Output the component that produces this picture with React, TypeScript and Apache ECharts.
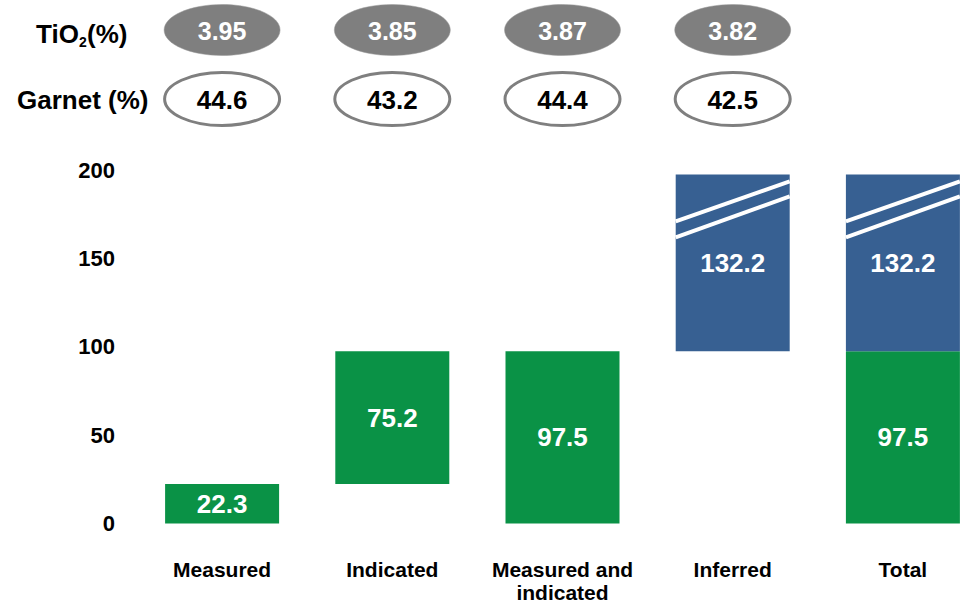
import React, { useEffect, useRef } from 'react';
import * as echarts from 'echarts';

// ---- data ----
const categories = ['Measured', 'Indicated', 'Measured and\nindicated', 'Inferred', 'Total'];
const tio2Values = [3.95, 3.85, 3.87, 3.82];
const garnetValues = [44.6, 43.2, 44.4, 42.5];
// waterfall segments (Mt)
const baseValues = [0, 22.3, 0, 97.5, 0];
const greenValues = [22.3, 75.2, 97.5, 0, 97.5];
const blueValues = [0, 0, 0, 132.2, 132.2];
const yTicks = [0, 50, 100, 150, 200];
// the broken blue bars are drawn up to this axis value
const brokenBarTop = 197.5;

const FONT = '"Liberation Sans", Arial, Helvetica, sans-serif';
const GREEN = '#0a9246';
const BLUE = '#376092';
const GREY = '#7f7f7f';
const BAR_WIDTH = 114;

export default function App() {
  const ref = useRef<HTMLDivElement>(null);
  useEffect(() => {
    if (!ref.current) return;
    const chart = echarts.init(ref.current, null, { renderer: 'svg' });
    const blueShown = blueValues.map((v, i) =>
      v > 0 ? Math.min(v, brokenBarTop - baseValues[i] - greenValues[i]) : 0
    );
    const labelFor = (arr: number[]) => (p: any) => (arr[p.dataIndex] > 0 ? String(arr[p.dataIndex]) : '');
    const labelStyle = {
      show: true,
      position: 'inside',
      color: '#fff',
      fontFamily: FONT,
      fontWeight: 'bold',
      fontSize: 26,
    };
    chart.setOption({
      animation: false,
      grid: {
        left: 137,
        top: 170,
        width: 851,
        height: 353.5,
        containLabel: false,
        outerBoundsMode: 'none',
      },
      xAxis: {
        type: 'category',
        data: categories,
        axisLine: { show: false },
        axisTick: { show: false },
        splitLine: { show: false },
        axisLabel: {
          interval: 0,
          margin: 34,
          color: '#000',
          fontFamily: FONT,
          fontWeight: 'bold',
          fontSize: 21,
          lineHeight: 23,
        },
      },
      yAxis: {
        type: 'value',
        min: yTicks[0],
        max: yTicks[yTicks.length - 1],
        interval: yTicks[1] - yTicks[0],
        axisLine: { show: false },
        axisTick: { show: false },
        splitLine: { show: false },
        axisLabel: {
          margin: 22,
          color: '#000',
          fontFamily: FONT,
          fontWeight: 'bold',
          fontSize: 22,
        },
      },
      series: [
        {
          type: 'bar',
          stack: 'w',
          data: baseValues,
          barWidth: BAR_WIDTH,
          itemStyle: { color: 'transparent' },
          silent: true,
        },
        {
          type: 'bar',
          stack: 'w',
          data: greenValues,
          barWidth: BAR_WIDTH,
          itemStyle: { color: GREEN },
          label: { ...labelStyle, formatter: labelFor(greenValues) },
        },
        {
          type: 'bar',
          stack: 'w',
          data: blueShown,
          barWidth: BAR_WIDTH,
          itemStyle: { color: BLUE },
          label: { ...labelStyle, formatter: labelFor(blueValues) },
        },
      ],
    });

    const graphics: any[] = [];
    // header labels
    graphics.push(
      { type: 'text', x: 36, y: 34, style: { text: 'TiO', font: `bold 26px ${FONT}`, fill: '#000', align: 'left', verticalAlign: 'middle' } },
      { type: 'text', x: 79, y: 42, style: { text: '2', font: `bold 14px ${FONT}`, fill: '#000', align: 'left', verticalAlign: 'middle' } },
      { type: 'text', x: 87, y: 34, style: { text: '(%)', font: `bold 26px ${FONT}`, fill: '#000', align: 'left', verticalAlign: 'middle' } },
      { type: 'text', x: 17, y: 100, style: { text: 'Garnet (%)', font: `bold 26px ${FONT}`, fill: '#000', align: 'left', verticalAlign: 'middle' } }
    );
    tio2Values.forEach((v, i) => {
      const cx = chart.convertToPixel({ gridIndex: 0 }, [i, 0])[0];
      graphics.push(
        { type: 'ellipse', shape: { cx, cy: 30, rx: 58, ry: 25.5 }, style: { fill: GREY, stroke: '#999', lineWidth: 0.5 } },
        { type: 'text', x: cx, y: 31, style: { text: v.toFixed(2), font: `bold 25px ${FONT}`, fill: '#fff', align: 'center', verticalAlign: 'middle' } }
      );
    });
    garnetValues.forEach((v, i) => {
      const cx = chart.convertToPixel({ gridIndex: 0 }, [i, 0])[0];
      graphics.push(
        { type: 'ellipse', shape: { cx, cy: 99, rx: 57.5, ry: 26.5 }, style: { fill: '#fff', stroke: GREY, lineWidth: 3 } },
        { type: 'text', x: cx, y: 100, style: { text: v.toFixed(1), font: `bold 26px ${FONT}`, fill: '#000', align: 'center', verticalAlign: 'middle' } }
      );
    });
    // axis-break marks on truncated blue bars
    blueValues.forEach((v, i) => {
      if (!(v > 0) || baseValues[i] + greenValues[i] + v <= brokenBarTop) return;
      const [cx, top] = chart.convertToPixel({ gridIndex: 0 }, [i, brokenBarTop]);
      const l = cx - BAR_WIDTH / 2;
      const r = cx + BAR_WIDTH / 2;
      [[47, 7], [63, 22]].forEach(([dl, dr]) => {
        graphics.push({
          type: 'line',
          z: 100,
          shape: { x1: l, y1: top + dl, x2: r, y2: top + dr },
          style: { stroke: '#fff', lineWidth: 4 },
        });
      });
    });
    chart.setOption({ graphic: graphics });

    return () => chart.dispose();
  }, []);
  return (
    <div
      ref={ref}
      style={{ position: 'absolute', left: 0, top: 0, width: 960, height: 604, background: '#fff' }}
    />
  );
}
